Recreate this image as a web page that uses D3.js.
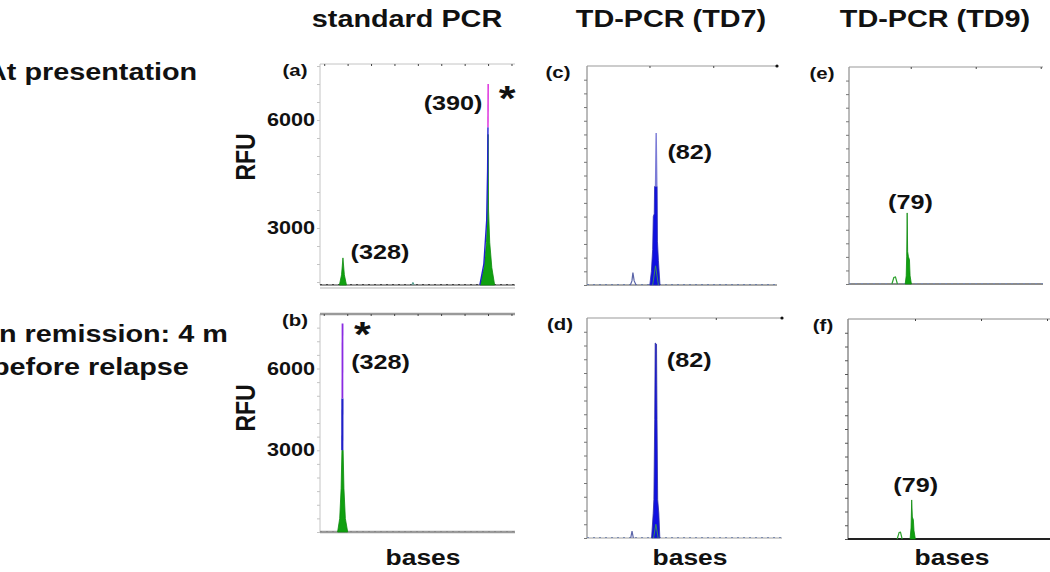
<!DOCTYPE html>
<meta charset="utf-8">
<style>
body { margin: 0; background: #fff; }
text { font-family: "Liberation Sans", Arial, sans-serif; font-weight: bold; fill: #111; }
</style>
<body>
<script src="https://cdn.jsdelivr.net/npm/d3@7"></script>
<script>
// ---- data ----
var columns = ["standard PCR", "TD-PCR (TD7)", "TD-PCR (TD9)"];
var rowLabels = [["At presentation"], ["In remission: 4 m", "before relapse"]];
var yTickLabels = [3000, 6000];

// (a) standard PCR, at presentation  [bases, RFU]
var aGreen328 = [[326.5,1420],[327.4,1700],[328.0,2170],[328.6,1700],[329.5,1420]];
var aGreen390 = [[386.6,1420],[388.3,1900],[389.3,2600],[389.8,3500],[390.0,5600],[390.2,3500],[390.7,2600],[391.6,1900],[392.8,1420]];
var aBlue390  = [[386.5,1420],[388.2,2000],[389.4,3200],[389.8,4600],[389.95,5800]];
var aPink390  = [[389.95,5800],[390.05,7000]];
var aNoise    = [[357.4,1420],[357.9,1490],[358.4,1420]];
// (b) standard PCR, remission
var bGreen328  = [[325.9,0],[326.8,500],[327.4,1600],[327.75,3000],[328.25,3000],[328.6,1600],[329.2,500],[330.2,0]];
var bBlue328   = [[327.9,3000],[327.95,4900]];
var bPurple328 = [[327.95,4900],[328.0,7650]];
// (c) TD7, presentation
var cBlue  = [[80.1,0],[80.6,500],[81.0,1300],[81.2,2500],[81.5,2600],[81.6,3600],[82.4,3600],[82.5,1600],[82.8,900],[83.3,0]];
var cSpike = [[81.9,3600],[82.1,5550],[82.3,3600]];
var cBump  = [[74.0,0],[74.5,150],[74.8,450],[75.2,150],[75.8,0]];
var cGreen = [[81.0,0],[81.9,700],[82.8,0]];
// (d) TD7, remission
var dBlue  = [[80.6,0],[81.1,900],[81.3,1400],[81.55,4300],[81.7,7090],[82.1,7050],[82.25,4300],[82.45,1400],[82.8,900],[83.1,0]];
var dBump  = [[74.3,0],[74.7,250],[75.1,0]];
var dGreen = [[81.2,0],[81.9,500],[82.6,0]];
// (e) TD9, presentation
var eGreen = [[78.3,0],[78.6,300],[78.75,1000],[78.9,2620],[79.05,1200],[79.3,1000],[79.6,900],[79.8,300],[80.2,0]];
var eBump  = [[74.2,0],[74.8,240],[75.3,260],[75.9,0]];
// (f) TD9, remission
var fGreen = [[78.5,0],[78.8,400],[79.0,1420],[79.2,800],[79.5,700],[79.7,300],[80.1,0]];
var fBump  = [[74.6,0],[75.2,240],[75.6,250],[76.1,0]];

// ---- drawing ----
var W = 1050, H = 572, SX = 1.2;   // figure text is stretched horizontally
var svg = d3.select("body").append("svg").attr("width", W).attr("height", H);

function label(txt, x, y, size, anchor, rot) {
  return svg.append("text")
    .attr("transform", "translate(" + x + "," + y + ") scale(" + SX + ",1)" + (rot ? " rotate(" + rot + ")" : ""))
    .attr("text-anchor", anchor || "middle")
    .style("font-size", size + "px")
    .text(txt);
}

// column headers
var headX = [407, 671, 935];
columns.forEach(function(c, i) { label(c, headX[i], 27, 24); });

// row labels (clipped by left edge like the original)
label(rowLabels[0][0], -14, 80, 24, "start");
label(rowLabels[1][0], -9, 342, 24, "start");
label(rowLabels[1][1], -8, 375, 24, "start");

function panel(p) {
  var x = d3.scaleLinear().domain(p.xd).range([p.x0, p.x1]);
  var y = d3.scaleLinear().domain(p.yd).range([p.y1, p.y0]);
  var g = svg.append("g");

  // left axis
  g.append("g").attr("transform", "translate(" + p.x0 + ",0)")
    .call(d3.axisLeft(y).tickValues(d3.range(Math.ceil(p.yd[0] / 500) * 500, p.yd[1], 500)).tickSize(3).tickFormat(""))
    .call(function(a) {
      a.select(".domain").attr("stroke", p.axisCol).attr("d", "M0," + p.y0 + "V" + p.y1);
      a.selectAll(".tick line").attr("stroke", p.axisCol);
    });
  // top axis
  g.append("g").attr("transform", "translate(0," + p.y0 + ")")
    .call(d3.axisTop(x).tickValues(p.topTicks).tickSize(-2).tickFormat(""))
    .call(function(a) {
      a.select(".domain").attr("stroke", p.topCol).attr("stroke-width", p.topW).attr("d", "M" + p.x0 + ",0H" + p.x1);
      a.selectAll(".tick line").attr("stroke", "#444");
    });
  if (p.endDot) g.append("circle").attr("cx", p.x1).attr("cy", p.y0).attr("r", 1.6).attr("fill", "#111");

  // baseline
  g.append("line").attr("x1", p.x0).attr("x2", p.x1).attr("y1", p.y1).attr("y2", p.y1)
    .attr("stroke", p.baseCol).attr("stroke-width", p.baseW);
  if (p.base2) g.append("line").attr("x1", p.x0).attr("x2", p.x1).attr("y1", p.y1 + 3).attr("y2", p.y1 + 3)
    .attr("stroke", "#b5b5b5").attr("stroke-width", 1.2);
  g.append("line").attr("x1", p.x0).attr("x2", p.x1).attr("y1", p.y1 - 0.5).attr("y2", p.y1 - 0.5)
    .attr("stroke", p.dotCol).attr("stroke-width", 1.2).attr("stroke-dasharray", "2,4");

  var area = d3.area().x(function(d) { return x(d[0]); }).y0(y(p.yd[0])).y1(function(d) { return y(d[1]); });
  var line = d3.line().x(function(d) { return x(d[0]); }).y(function(d) { return y(d[1]); });
  p.traces.forEach(function(t) {
    if (t.fill) g.append("path").datum(t.data).attr("d", area).attr("fill", t.color)
      .attr("stroke", t.stroke || "none").attr("stroke-width", 0.8);
    else g.append("path").datum(t.data).attr("d", line).attr("fill", "none")
      .attr("stroke", t.color).attr("stroke-width", t.w || 1.2);
  });

  // y tick labels
  if (p.yLabels) {
    yTickLabels.forEach(function(v) { label(v, p.x0 - 5, y(v) + 6, 18, "end"); });
    label("RFU", p.rfu[0], p.rfu[1], 23, "middle", -90);
  }
  label(p.name, p.nameX, p.y0 + 12, 17);
  p.peakLabels.forEach(function(l) { label(l.t, x(l.v) + l.dx, l.y, 21); });
  if (p.star) label("*", x(p.star[0]) + p.star[1], p.star[2], 36);
  if (p.bases) label("bases", p.bases, 565, 22);
  return { x: x, y: y };
}

var GREEN = "#10a010", BLUE = "#1010e0";

panel({ name: "(a)", nameX: 295, x0: 320, x1: 515, y0: 64, y1: 285, xd: [318.2, 401.5], yd: [1417, 7556],
  axisCol: "#c4c4c4", topCol: "#c4c4c4", topW: 1, topTicks: d3.range(320, 401, 10),
  baseCol: "#777", baseW: 1.6, base2: true, dotCol: "#444",
  yLabels: true, rfu: [255, 157],
  traces: [
    { data: aNoise, color: "#4a9a8a", w: 1 },
    { data: aGreen328, fill: true, color: GREEN, stroke: "#0c8a0c" },
    { data: aGreen390, fill: true, color: GREEN, stroke: "#0c8a0c" },
    { data: aBlue390, color: "#2020d0", w: 1.4 },
    { data: aPink390, color: "#e040e0", w: 1.6 }
  ],
  peakLabels: [{ t: "(328)", v: 328, dx: 37, y: 259 }, { t: "(390)", v: 390, dx: -35, y: 110 }],
  star: [390, 19, 110] });

panel({ name: "(b)", nameX: 295, x0: 320, x1: 515, y0: 314, y1: 532, xd: [318.4, 401.5], yd: [0, 8000],
  axisCol: "#c4c4c4", topCol: "#9a9a9a", topW: 2.5, topTicks: d3.range(320, 401, 10),
  baseCol: "#9a9a9a", baseW: 2.5, base2: false, dotCol: "#888",
  yLabels: true, rfu: [255, 408],
  traces: [
    { data: bGreen328, fill: true, color: GREEN, stroke: "#0c8a0c" },
    { data: bBlue328, color: "#2020c8", w: 2.2 },
    { data: bPurple328, color: "#8a2be2", w: 1.8 }
  ],
  peakLabels: [{ t: "(328)", v: 328, dx: 38, y: 369 }],
  star: [328, 20, 346], bases: 423 });

panel({ name: "(c)", nameX: 558, x0: 587, x1: 777, y0: 66, y1: 285, xd: [60.4, 120], yd: [0, 8000],
  axisCol: "#777", topCol: "#999", topW: 1, topTicks: [80, 100], endDot: true,
  baseCol: "#555", baseW: 1.2, dotCol: "#6c7fa8",
  traces: [
    { data: cBump, color: "#5a64a8", w: 1.2 },
    { data: cBlue, fill: true, color: BLUE, stroke: "#2b2bb0" },
    { data: cSpike, color: "#7b7bd6", w: 1.4 },
    { data: cGreen, color: "#3a8a5a", w: 1 }
  ],
  peakLabels: [{ t: "(82)", v: 82, dx: 34, y: 159 }] });

panel({ name: "(d)", nameX: 560, x0: 587, x1: 782, y0: 318, y1: 538, xd: [61.1, 120], yd: [0, 8000],
  axisCol: "#777", topCol: "#999", topW: 1, topTicks: [80, 100], endDot: true,
  baseCol: "#888", baseW: 0.8, dotCol: "#7c8cb0",
  traces: [
    { data: dBump, color: "#5a64a8", w: 1.2 },
    { data: dBlue, fill: true, color: BLUE, stroke: "#3030a0" },
    { data: dGreen, color: "#3a8a5a", w: 1 }
  ],
  peakLabels: [{ t: "(82)", v: 82, dx: 33, y: 367 }], bases: 690 });

panel({ name: "(e)", nameX: 822, x0: 849, x1: 1043, y0: 67, y1: 284, xd: [61, 120.7], yd: [0, 8000],
  axisCol: "#777", topCol: "#999", topW: 1, topTicks: [80, 100, 120],
  baseCol: "#666", baseW: 1.4, dotCol: "#7c8cb0",
  traces: [
    { data: eBump, color: "#2aa02a", w: 1.2 },
    { data: eGreen, fill: true, color: GREEN, stroke: "#0c8a0c" }
  ],
  peakLabels: [{ t: "(79)", v: 79, dx: 3, y: 209 }] });

panel({ name: "(f)", nameX: 823, x0: 848, x1: 1050, y0: 319, y1: 539, xd: [59.7, 120.9], yd: [0, 8000],
  axisCol: "#555", topCol: "#888", topW: 1, topTicks: [80, 100, 120],
  baseCol: "#222", baseW: 1.8, dotCol: "#222",
  traces: [
    { data: fBump, color: "#2aa02a", w: 1.2 },
    { data: fGreen, fill: true, color: GREEN, stroke: "#0c8a0c" }
  ],
  peakLabels: [{ t: "(79)", v: 79, dx: 4, y: 492 }], bases: 952 });
</script>
</body>
